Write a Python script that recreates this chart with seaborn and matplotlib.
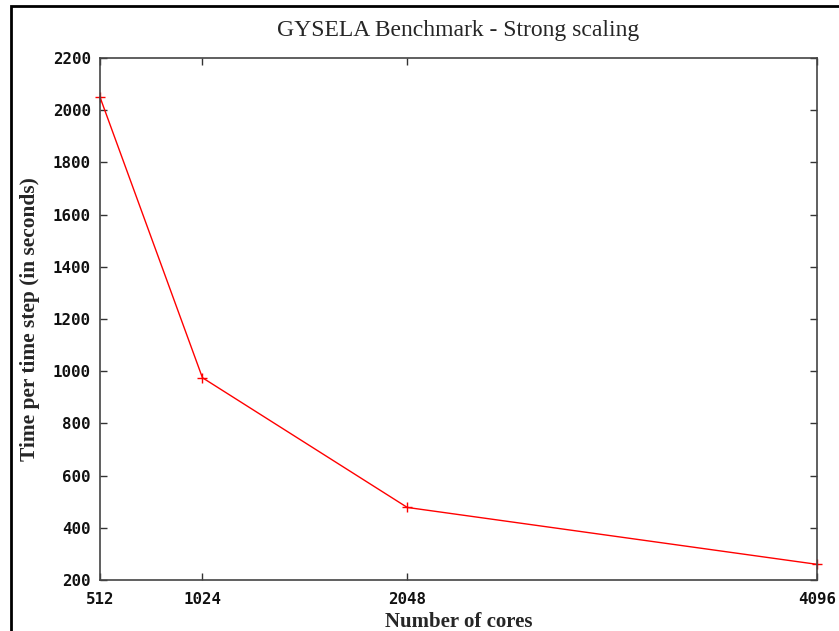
import matplotlib
matplotlib.use("Agg")
import matplotlib.pyplot as plt
import seaborn as sns
import pandas as pd
from matplotlib.patches import Rectangle

cores = [512, 1024, 2048, 4096]
times = [2050, 975, 478, 260]
x_ticks = [512, 1024, 2048, 4096]
y_ticks = [200, 400, 600, 800, 1000, 1200, 1400, 1600, 1800, 2000, 2200]

df = pd.DataFrame({"cores": cores, "time": times})

sns.set_style("white")
fig = plt.figure(figsize=(8.39, 6.31), dpi=100)
W, H = 839, 631
ax = fig.add_axes([100 / W, 1 - 580 / H, (817 - 100) / W, (580 - 58) / H])

sns.lineplot(data=df, x="cores", y="time", ax=ax, color="#ff0000", linewidth=1.0,
             marker="+", markersize=7.5, markeredgewidth=1.0, markeredgecolor="#ff0000",
             clip_on=False)

ax.set_xlim(512, 4096)
ax.set_ylim(200, 2200)
ax.set_xticks(x_ticks)
ax.set_yticks(y_ticks)
ax.set_xticklabels([str(v) for v in x_ticks])
ax.set_yticklabels([str(v) for v in y_ticks])

for lab in ax.get_xticklabels() + ax.get_yticklabels():
    lab.set_fontfamily("DejaVu Sans Mono")
    lab.set_fontweight("bold")
    lab.set_fontsize(11.3)
    lab.set_color("#111111")

ax.tick_params(direction="in", length=5, width=1, color="#333333",
               top=True, right=True, bottom=True, left=True,
               labeltop=False, labelright=False)
ax.tick_params(axis="x", pad=9)
ax.tick_params(axis="y", pad=6.5)
for s in ax.spines.values():
    s.set_color("#444444")
    s.set_linewidth(1.2)

ax.set_xlabel("Number of cores", fontfamily="Liberation Serif", fontweight="bold",
              fontsize=15, labelpad=3)
ax.set_ylabel("Time per time step (in seconds)", fontfamily="Liberation Serif",
              fontweight="bold", fontsize=15.4, labelpad=9)
ax.set_title("GYSELA Benchmark - Strong scaling", fontfamily="Liberation Serif",
             fontsize=17, pad=16)

fig.patches.append(Rectangle((11 / W, -0.1), 1.2, 1 - 6 / H + 0.1, transform=fig.transFigure,
                             fill=False, edgecolor="black", linewidth=2, zorder=10))

fig.savefig("out.png", dpi=100)
